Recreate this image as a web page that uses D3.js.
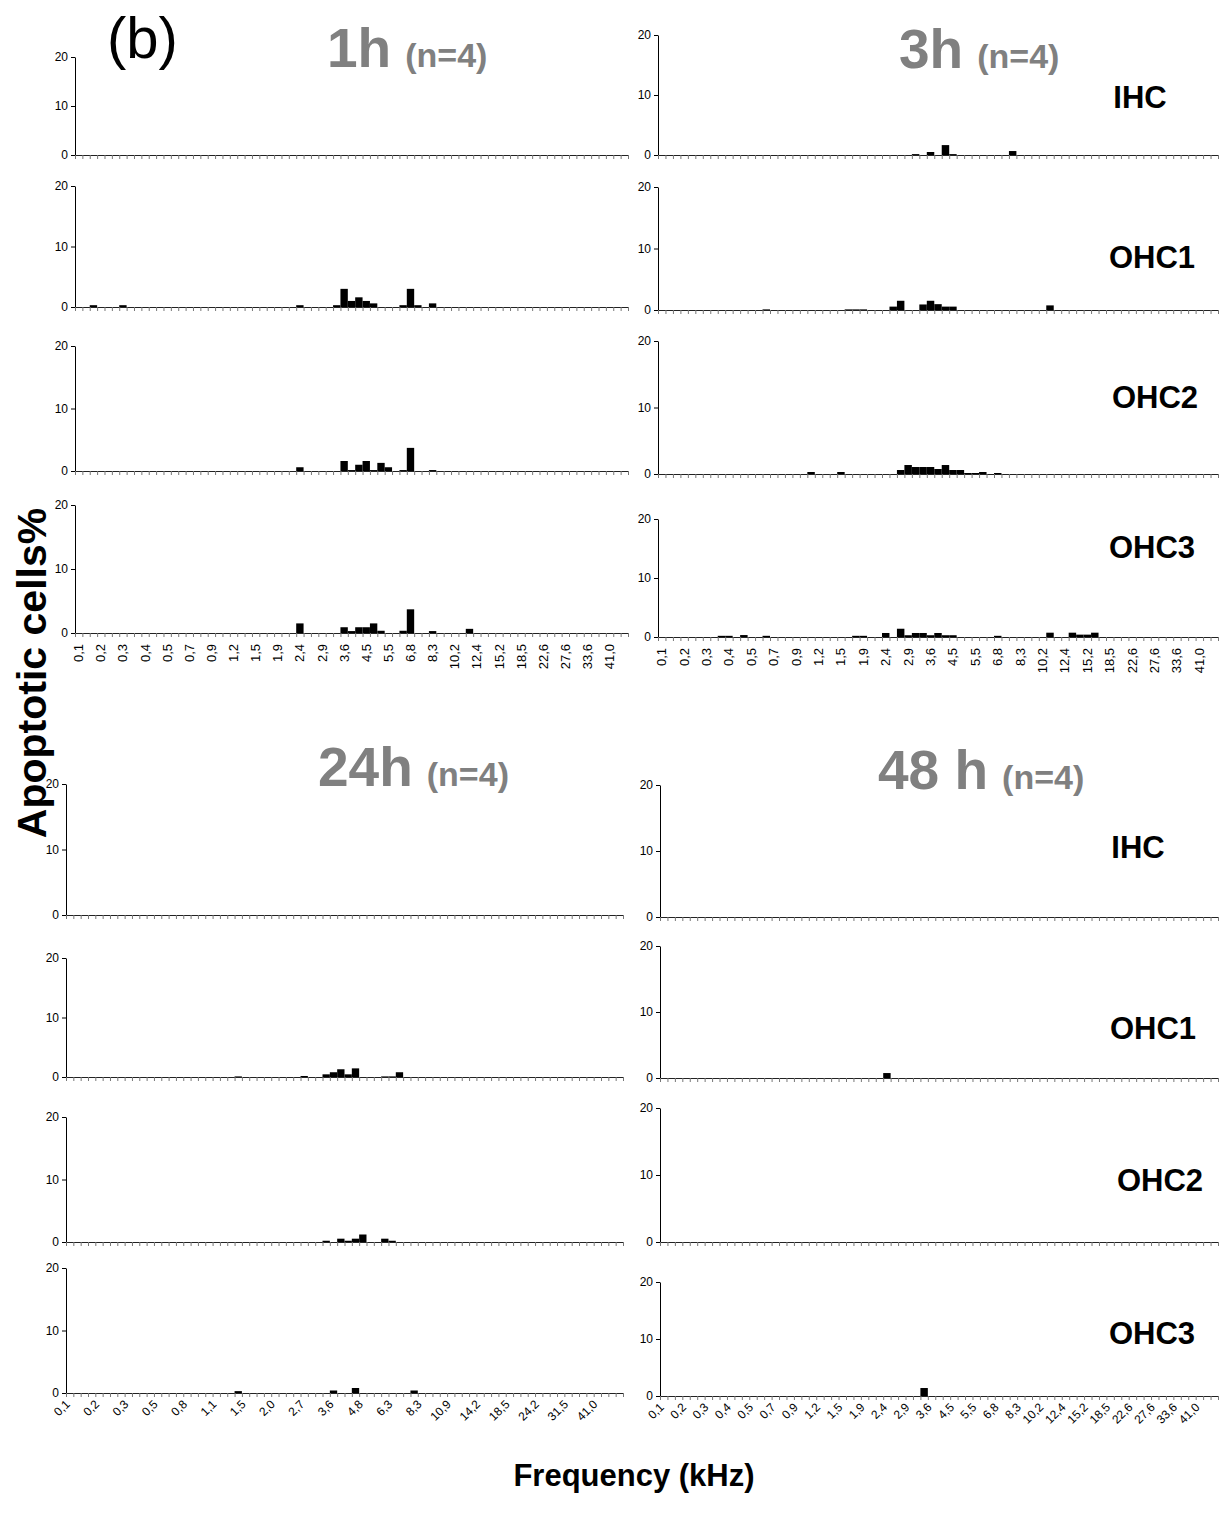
<!DOCTYPE html>
<html><head><meta charset="utf-8">
<script src="https://cdn.jsdelivr.net/npm/d3@7"></script>
<style>
body{margin:0;background:#fff}
text{font-family:"Liberation Sans",Arial,Helvetica,sans-serif}
.tk text{font-family:"Liberation Sans",Arial,sans-serif;fill:#000}
</style>
</head><body>
<svg id="c" width="1220" height="1521"></svg>
<script>
// ---------- tick labels ----------
const labelsA = ["0,1","0,2","0,3","0,4","0,5","0,7","0,9","1,2","1,5","1,9","2,4","2,9","3,6","4,5","5,5","6,8","8,3","10,2","12,4","15,2","18,5","22,6","27,6","33,6","41,0"];
const labels24h = ["0,1","0,2","0,3","0,5","0,8","1,1","1,5","2,0","2,7","3,6","4,8","6,3","8,3","10,9","14,2","18,5","24,2","31,5","41,0"];
const yTicks = [0, 10, 20];
const rowNames = ["IHC","OHC1","OHC2","OHC3"];

// ---------- 1h (75 bins) ----------
const h1_IHC = [
0,0,0,0,0,0,0,0,0,0,0,0,0,0,0,
0,0,0,0,0,0,0,0,0,0,0,0,0,0,0,
0,0,0,0,0,0,0,0,0,0,0,0,0,0,0,
0,0,0,0,0,0,0,0,0,0,0,0,0,0,0,
0,0,0,0,0,0,0,0,0,0,0,0,0,0,0];
const h1_OHC1 = [
0,0,0.3,0,0,0,0.3,0,0,0,0,0,0,0,0,
0,0,0,0,0,0,0,0,0,0,0,0,0,0,0,
0.3,0,0,0,0,0.3,3.0,1.0,1.6,1.0,0.6,0,0,0,0.3,
3.0,0.3,0,0.6,0,0,0,0,0,0,0,0,0,0,0,
0,0,0,0,0,0,0,0,0,0,0,0,0,0,0];
const h1_OHC2 = [
0,0,0,0,0,0,0,0,0,0,0,0,0,0,0,
0,0,0,0,0,0,0,0,0,0,0,0,0,0,0,
0.6,0,0,0,0,0,1.6,0.15,1.0,1.6,0.15,1.3,0.6,0,0.15,
3.7,0,0,0.15,0,0,0,0,0,0,0,0,0,0,0,
0,0,0,0,0,0,0,0,0,0,0,0,0,0,0];
const h1_OHC3 = [
0,0,0,0,0,0,0,0,0,0,0,0,0,0,0,
0,0,0,0,0,0,0,0,0,0,0,0,0,0,0,
1.5,0,0,0,0,0,0.9,0.3,0.9,0.9,1.5,0.35,0,0,0.35,
3.7,0,0,0.3,0,0,0,0,0.65,0,0,0,0,0,0,
0,0,0,0,0,0,0,0,0,0,0,0,0,0,0];

// ---------- 3h (75 bins) ----------
const h3_IHC = [
0,0,0,0,0,0,0,0,0,0,0,0,0,0,0,
0,0,0,0,0,0,0,0,0,0,0,0,0,0,0,
0,0,0,0,0.15,0,0.5,0,1.65,0.15,0,0,0,0,0,
0,0,0.66,0,0,0,0,0,0,0,0,0,0,0,0,
0,0,0,0,0,0,0,0,0,0,0,0,0,0,0];
const h3_OHC1 = [
0,0,0,0,0,0,0,0,0,0,0,0,0,0,0.1,
0,0,0,0,0,0,0,0,0,0,0.1,0.1,0.1,0,0,
0,0.55,1.5,0,0,0.9,1.5,0.95,0.55,0.55,0,0,0,0,0,
0,0,0,0,0,0,0,0.75,0,0,0,0,0,0,0,
0,0,0,0,0,0,0,0,0,0,0,0,0,0,0];
const h3_OHC2 = [
0,0,0,0,0,0,0,0,0,0,0,0,0,0,0,
0,0,0,0,0,0.3,0,0,0,0.3,0,0,0,0,0,
0,0,0.6,1.35,1.05,1.05,1.05,0.75,1.35,0.6,0.6,0.15,0.15,0.3,0,
0.15,0,0,0,0,0,0,0,0,0,0,0,0,0,0,
0,0,0,0,0,0,0,0,0,0,0,0,0,0,0];
const h3_OHC3 = [
0,0,0,0,0,0,0,0,0.2,0.2,0,0.33,0,0,0.2,
0,0,0,0,0,0,0,0,0,0,0,0.2,0.2,0,0,
0.68,0,1.4,0.3,0.68,0.68,0.3,0.68,0.3,0.3,0,0,0,0,0,
0.2,0,0,0,0,0,0,0.73,0,0,0.73,0.4,0.4,0.73,0,
0,0,0,0,0,0,0,0,0,0,0,0,0,0,0];

// ---------- 24h (76 bins) ----------
const h24_IHC = [
0,0,0,0,0,0,0,0,0,0,0,0,0,0,0,
0,0,0,0,0,0,0,0,0,0,0,0,0,0,0,
0,0,0,0,0,0,0,0,0,0,0,0,0,0,0,
0,0,0,0,0,0,0,0,0,0,0,0,0,0,0,
0,0,0,0,0,0,0,0,0,0,0,0,0,0,0,0];
const h24_OHC1 = [
0,0,0,0,0,0,0,0,0,0,0,0,0,0,0,
0,0,0,0,0,0,0,0,0.1,0,0,0,0,0,0,
0,0,0.17,0,0,0.45,0.8,1.3,0.45,1.45,0,0,0,0.1,0.1,
0.8,0,0,0,0,0,0,0,0,0,0,0,0,0,0,
0,0,0,0,0,0,0,0,0,0,0,0,0,0,0,0];
const h24_OHC2 = [
0,0,0,0,0,0,0,0,0,0,0,0,0,0,0,
0,0,0,0,0,0,0,0,0,0,0,0,0,0,0,
0,0,0,0,0,0.2,0,0.53,0.2,0.53,1.2,0,0,0.53,0.2,
0,0,0,0,0,0,0,0,0,0,0,0,0,0,0,
0,0,0,0,0,0,0,0,0,0,0,0,0,0,0,0];
const h24_OHC3 = [
0,0,0,0,0,0,0,0,0,0,0,0,0,0,0,
0,0,0,0,0,0,0,0,0.3,0,0,0,0,0,0,
0,0,0,0,0,0,0.4,0,0,0.8,0,0,0,0,0,
0,0,0.4,0,0,0,0,0,0,0,0,0,0,0,0,
0,0,0,0,0,0,0,0,0,0,0,0,0,0,0,0];

// ---------- 48h (75 bins) ----------
const h48_IHC = [
0,0,0,0,0,0,0,0,0,0,0,0,0,0,0,
0,0,0,0,0,0,0,0,0,0,0,0,0,0,0,
0,0,0,0,0,0,0,0,0,0,0,0,0,0,0,
0,0,0,0,0,0,0,0,0,0,0,0,0,0,0,
0,0,0,0,0,0,0,0,0,0,0,0,0,0,0];
const h48_OHC1 = [
0,0,0,0,0,0,0,0,0,0,0,0,0,0,0,
0,0,0,0,0,0,0,0,0,0,0,0,0,0,0,
0.75,0,0,0,0,0,0,0,0,0,0,0,0,0,0,
0,0,0,0,0,0,0,0,0,0,0,0,0,0,0,
0,0,0,0,0,0,0,0,0,0,0,0,0,0,0];
const h48_OHC2 = [
0,0,0,0,0,0,0,0,0,0,0,0,0,0,0,
0,0,0,0,0,0,0,0,0,0,0,0,0,0,0,
0,0,0,0,0,0,0,0,0,0,0,0,0,0,0,
0,0,0,0,0,0,0,0,0,0,0,0,0,0,0,
0,0,0,0,0,0,0,0,0,0,0,0,0,0,0];
const h48_OHC3 = [
0,0,0,0,0,0,0,0,0,0,0,0,0,0,0,
0,0,0,0,0,0,0,0,0,0,0,0,0,0,0,
0,0,0,0,0,1.4,0,0,0,0,0,0,0,0,0,
0,0,0,0,0,0,0,0,0,0,0,0,0,0,0,
0,0,0,0,0,0,0,0,0,0,0,0,0,0,0];

// ---------- layout ----------
const groups = [
  {series:[h1_IHC,h1_OHC1,h1_OHC2,h1_OHC3], labels:labelsA, step:3, x0:75, x1:628, rot:-90,
   ys:[[155,57],[307,186],[471,346],[633,505]], names:null},
  {series:[h3_IHC,h3_OHC1,h3_OHC2,h3_OHC3], labels:labelsA, step:3, x0:658, x1:1218, rot:-90,
   ys:[[155,35],[310,187],[474,341],[637,519]],
   names:[[1140,108],[1152,268],[1155,408],[1152,558]]},
  {series:[h24_IHC,h24_OHC1,h24_OHC2,h24_OHC3], labels:labels24h, step:4, x0:66, x1:623, rot:-45,
   ys:[[915,784],[1077,958],[1242,1117],[1393,1268]], names:null},
  {series:[h48_IHC,h48_OHC1,h48_OHC2,h48_OHC3], labels:labelsA, step:3, x0:660, x1:1218, rot:-45,
   ys:[[917,785],[1078,946],[1242,1108],[1396,1282]],
   names:[[1138,858],[1153,1039],[1160,1191],[1152,1344]]}
];

const svg = d3.select("#c");

groups.forEach(G => {
  G.series.forEach((data, r) => {
    const n = data.length;
    const [y0, y20] = G.ys[r];
    const xb = d3.scaleBand().domain(d3.range(n)).range([G.x0, G.x1]).padding(0);
    const xl = d3.scaleLinear().domain([0, n]).range([G.x0, G.x1]);
    const y = d3.scaleLinear().domain([0, 20]).range([y0, y20]);
    const g = svg.append("g");

    // bars
    g.selectAll("rect.bar").data(data.map((v,i)=>({i,v})).filter(d=>d.v>0))
      .join("rect").attr("class","bar")
      .attr("x", d => xb(d.i)).attr("width", xb.bandwidth())
      .attr("y", d => y(d.v)).attr("height", d => y0 - y(d.v))
      .attr("fill", "#000");

    // y axis
    const ya = g.append("g").attr("class","tk").attr("transform",`translate(${G.x0},0)`)
      .call(d3.axisLeft(y).tickValues(yTicks).tickSize(4).tickSizeOuter(0).tickPadding(3));
    ya.selectAll("text").attr("font-size",12);
    ya.select(".domain").attr("stroke","#000");
    ya.selectAll(".tick line").attr("stroke","#000");

    // x axis (ticks at bin boundaries)
    const xa = g.append("g").attr("transform",`translate(0,${y0})`)
      .call(d3.axisBottom(xl).tickValues(d3.range(n+1)).tickSize(4).tickSizeOuter(0).tickFormat(""));
    xa.select(".domain").attr("stroke","#222");
    xa.selectAll(".tick line").attr("stroke","#777");

    // category labels under bottom panel
    if (r === 3) {
      const vals = G.labels.map((_,k)=>k*G.step);
      const la = g.append("g").attr("class","tk").attr("transform",`translate(0,${y0})`)
        .call(d3.axisBottom(xb).tickValues(vals).tickSize(0).tickFormat((d)=>G.labels[d/G.step]));
      la.select(".domain").remove();
      if (G.rot === -90) {
        la.selectAll("text").attr("font-size",13).attr("transform","rotate(-90)").attr("text-anchor","end")
          .attr("x",-11).attr("y",0).attr("dy","0.35em");
      } else {
        la.selectAll("text").attr("font-size",12).attr("transform","translate(-2,9) rotate(-45)").attr("text-anchor","end")
          .attr("x",0).attr("y",0).attr("dy","0.35em");
      }
    }

    if (G.names) {
      svg.append("text").attr("x",G.names[r][0]).attr("y",G.names[r][1])
        .attr("text-anchor","middle").attr("font-weight","bold").attr("font-size",31)
        .attr("fill","#000").text(rowNames[r]);
    }
  });
});

// ---------- titles ----------
const grey = "#808080";
svg.append("text").attr("x",107).attr("y",58).attr("font-size",58).attr("fill","#000").text("(b)");
const titles = [
  {main:"1h", x:327, y:67},
  {main:"3h", x:899, y:68},
  {main:"24h", x:318, y:786},
  {main:"48 h", x:878, y:789}
];
titles.forEach(t => {
  const tx = svg.append("text").attr("x",t.x).attr("y",t.y).attr("fill",grey).attr("font-weight","bold");
  tx.append("tspan").attr("font-size",55).text(t.main);
  tx.append("tspan").attr("font-size",34).attr("dx",14).text("(n=4)");
});

svg.append("text").attr("transform","translate(46,673) rotate(-90)").attr("text-anchor","middle")
  .attr("font-weight","bold").attr("font-size",41).attr("fill","#000").text("Apoptotic cells%");
svg.append("text").attr("x",634).attr("y",1486).attr("text-anchor","middle")
  .attr("font-weight","bold").attr("font-size",31).attr("fill","#000").text("Frequency (kHz)");
</script>
</body></html>
